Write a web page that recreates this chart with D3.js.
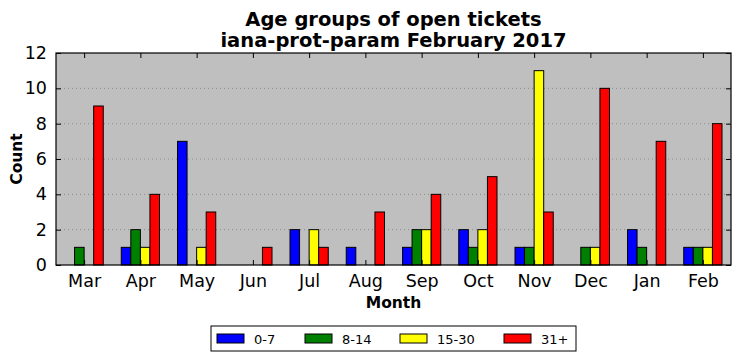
<!DOCTYPE html>
<html>
<head>
<meta charset="utf-8">
<script src="https://cdn.jsdelivr.net/npm/d3@7"></script>
<style>
  body { margin: 0; background: #fff; }
  text { font-family: "DejaVu Sans", sans-serif; }
</style>
</head>
<body>
<script>
var months = ["Mar","Apr","May","Jun","Jul","Aug","Sep","Oct","Nov","Dec","Jan","Feb"];
var groups = ["0-7","8-14","15-30","31+"];
var colours = ["#0000ff","#008000","#ffff00","#ff0000"];

var age0to7   = [0,1,7,0,2,1,1,2,1,0,2,1];
var age8to14  = [1,2,0,0,0,0,2,1,1,1,1,1];
var age15to30 = [0,1,1,0,2,0,2,2,11,1,0,1];
var age31plus = [9,4,3,1,1,3,4,5,3,10,7,8];
var series = [age0to7, age8to14, age15to30, age31plus];

var yTicks = [0,2,4,6,8,10,12];

const width = 740;
const height = 361;
const plotLeft = 56, plotRight = 731, plotTop = 53, plotBottom = 265;
const barW = 0.17;

var svg = d3.select('body').append('svg')
    .attr('width', width)
    .attr('height', height);

const xScale = d3.scaleLinear().domain([-0.5, 11.5]).range([plotLeft, plotRight]);
const yScale = d3.scaleLinear().domain([0, 12]).range([plotBottom, plotTop]);

// background
svg.append('rect')
    .attr('x', plotLeft).attr('y', plotTop)
    .attr('width', plotRight - plotLeft).attr('height', plotBottom - plotTop)
    .attr('fill', '#bfbfbf');

// horizontal grid
svg.append('g').selectAll('line')
    .data(yTicks.filter(d => d > 0 && d < 12))
    .enter().append('line')
    .attr('x1', plotLeft).attr('x2', plotRight)
    .attr('y1', d => yScale(d)).attr('y2', d => yScale(d))
    .attr('stroke', '#8a8a8a')
    .attr('stroke-width', 1)
    .attr('stroke-dasharray', '1,3');

// bars
var data = [];
series.forEach((vals, s) => {
    vals.forEach((v, i) => {
        data.push({ i: i, s: s, v: v });
    });
});

svg.append('g').selectAll('rect')
    .data(data)
    .enter().append('rect')
    .attr('x', d => xScale(d.i + (d.s - 2) * barW))
    .attr('y', d => yScale(d.v))
    .attr('width', xScale(barW) - xScale(0))
    .attr('height', d => yScale(0) - yScale(d.v))
    .attr('fill', d => colours[d.s])
    .attr('stroke', '#000')
    .attr('stroke-width', 1);

// axes (ticks inside on all sides)
svg.append('g')
    .attr('transform', `translate(0,${plotBottom})`)
    .call(d3.axisBottom(xScale).tickValues(d3.range(12)).tickFormat(i => months[i]).tickSizeInner(-5).tickSizeOuter(0).tickPadding(10));
svg.append('g')
    .attr('transform', `translate(0,${plotTop})`)
    .call(d3.axisTop(xScale).tickValues(d3.range(12)).tickFormat('').tickSizeInner(-5).tickSizeOuter(0));
svg.append('g')
    .attr('transform', `translate(${plotLeft},0)`)
    .call(d3.axisLeft(yScale).tickValues(yTicks).tickSizeInner(-5).tickSizeOuter(0).tickPadding(9));
svg.append('g')
    .attr('transform', `translate(${plotRight},0)`)
    .call(d3.axisRight(yScale).tickValues(yTicks).tickFormat('').tickSizeInner(-5).tickSizeOuter(0));

svg.selectAll('.domain').remove();
svg.selectAll('.tick line').attr('stroke', '#000');
svg.selectAll('.tick text')
    .attr('font-family', '"DejaVu Sans", sans-serif')
    .attr('font-size', 17.5)
    .attr('fill', '#000');

// frame
svg.append('rect')
    .attr('x', plotLeft).attr('y', plotTop)
    .attr('width', plotRight - plotLeft).attr('height', plotBottom - plotTop)
    .attr('fill', 'none')
    .attr('stroke', '#000')
    .attr('stroke-width', 1.2);

// title
svg.append('text')
    .attr('x', (plotLeft + plotRight) / 2).attr('y', 26)
    .attr('text-anchor', 'middle')
    .attr('font-size', 19.5).attr('font-weight', 'bold')
    .text('Age groups of open tickets');
svg.append('text')
    .attr('x', (plotLeft + plotRight) / 2).attr('y', 47)
    .attr('text-anchor', 'middle')
    .attr('font-size', 19.5).attr('font-weight', 'bold')
    .text('iana-prot-param February 2017');

// axis labels
svg.append('text')
    .attr('x', (plotLeft + plotRight) / 2).attr('y', 308)
    .attr('text-anchor', 'middle')
    .attr('font-size', 15.5).attr('font-weight', 'bold')
    .text('Month');
svg.append('text')
    .attr('transform', `translate(22,${(plotTop + plotBottom) / 2}) rotate(-90)`)
    .attr('text-anchor', 'middle')
    .attr('font-size', 15.5).attr('font-weight', 'bold')
    .text('Count');

// legend
var legend = svg.append('g');
legend.append('rect')
    .attr('x', 211).attr('y', 326)
    .attr('width', 365).attr('height', 25)
    .attr('fill', '#fff').attr('stroke', '#000');
var legendX = [217, 305, 400, 504];
groups.forEach((g, k) => {
    legend.append('rect')
        .attr('x', legendX[k]).attr('y', 334)
        .attr('width', 27).attr('height', 9)
        .attr('fill', colours[k]).attr('stroke', '#000');
    legend.append('text')
        .attr('x', legendX[k] + 37).attr('y', 344)
        .attr('font-size', 13)
        .text(g);
});
</script>
</body>
</html>
